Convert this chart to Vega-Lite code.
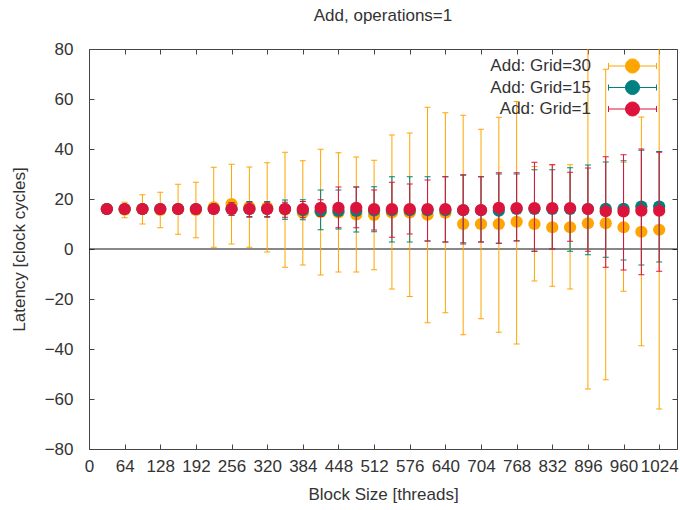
{
  "$schema": "https://vega.github.io/schema/vega-lite/v6.json",
  "width": 588,
  "height": 400,
  "autosize": {"type": "none"},
  "padding": {"left": 89, "top": 49, "right": 3, "bottom": 61},
  "background": "white",
  "config": {
    "font": "Liberation Sans",
    "view": {"stroke": "#444", "strokeWidth": 1},
    "axis": {
      "domain": false,
      "grid": false,
      "tickColor": "#444",
      "tickSize": -5,
      "labelFontSize": 17,
      "labelColor": "#333",
      "titleFontSize": 17,
      "titleFontWeight": "normal",
      "titleColor": "#333",
      "labelOverlap": false,
      "labelFlush": false
    },
    "legend": {
      "orient": "none", "legendX": 535, "legendY": 8.5, "title": null,
      "labelFontSize": 17, "labelColor": "#333", "labelAlign": "right", "labelBaseline": "middle", "labelOffset": -50,
      "symbolType": "M-3.43,0H3.43M-3.43,-0.43V0.43M3.43,-0.43V0.43M-1,0A1,1,0,1,0,1,0A1,1,0,1,0,-1,0Z",
      "symbolSize": 196, "symbolStrokeWidth": 1, "symbolOpacity": 1, "rowPadding": 2.5, "padding": 0
    }
  },
  "title": {"text": "Add, operations=1", "fontSize": 17, "fontWeight": "normal", "color": "#333", "anchor": "middle", "offset": 15},
  "data": {"values": [
    {"series": "Add: Grid=30", "x": 32, "mean": 16, "lo": 15, "hi": 17},
    {"series": "Add: Grid=30", "x": 64, "mean": 15.7, "lo": 12.5, "hi": 18.7},
    {"series": "Add: Grid=30", "x": 96, "mean": 16, "lo": 10, "hi": 21.7},
    {"series": "Add: Grid=30", "x": 128, "mean": 15.6, "lo": 8.5, "hi": 22.7},
    {"series": "Add: Grid=30", "x": 160, "mean": 16, "lo": 5.9, "hi": 25.9},
    {"series": "Add: Grid=30", "x": 192, "mean": 15.6, "lo": 4.5, "hi": 26.7},
    {"series": "Add: Grid=30", "x": 224, "mean": 16.7, "lo": 0.7, "hi": 32.7},
    {"series": "Add: Grid=30", "x": 256, "mean": 18, "lo": 2, "hi": 33.9},
    {"series": "Add: Grid=30", "x": 288, "mean": 16.8, "lo": 0.7, "hi": 32.8},
    {"series": "Add: Grid=30", "x": 320, "mean": 16.6, "lo": -1.2, "hi": 34.5},
    {"series": "Add: Grid=30", "x": 352, "mean": 15.7, "lo": -7.3, "hi": 38.7},
    {"series": "Add: Grid=30", "x": 384, "mean": 14.5, "lo": -6.4, "hi": 35.3},
    {"series": "Add: Grid=30", "x": 416, "mean": 14.8, "lo": -10.4, "hi": 39.9},
    {"series": "Add: Grid=30", "x": 448, "mean": 14.6, "lo": -9.2, "hi": 38.5},
    {"series": "Add: Grid=30", "x": 480, "mean": 13.8, "lo": -9.2, "hi": 36.8},
    {"series": "Add: Grid=30", "x": 512, "mean": 13.6, "lo": -8.3, "hi": 35.5},
    {"series": "Add: Grid=30", "x": 544, "mean": 14.6, "lo": -16, "hi": 45.6},
    {"series": "Add: Grid=30", "x": 576, "mean": 14.6, "lo": -19, "hi": 46.4},
    {"series": "Add: Grid=30", "x": 608, "mean": 13.7, "lo": -29.5, "hi": 56.7},
    {"series": "Add: Grid=30", "x": 640, "mean": 14.5, "lo": -25.5, "hi": 54.5},
    {"series": "Add: Grid=30", "x": 672, "mean": 10, "lo": -34.3, "hi": 53.5},
    {"series": "Add: Grid=30", "x": 704, "mean": 10, "lo": -27.9, "hi": 47.9},
    {"series": "Add: Grid=30", "x": 736, "mean": 10, "lo": -33.3, "hi": 52.7},
    {"series": "Add: Grid=30", "x": 768, "mean": 10.9, "lo": -38, "hi": 59},
    {"series": "Add: Grid=30", "x": 800, "mean": 10, "lo": -12.8, "hi": 33},
    {"series": "Add: Grid=30", "x": 832, "mean": 8.7, "lo": -14.9, "hi": 33.7},
    {"series": "Add: Grid=30", "x": 864, "mean": 8.7, "lo": -16, "hi": 33.7},
    {"series": "Add: Grid=30", "x": 896, "mean": 10.3, "lo": -56, "hi": 84},
    {"series": "Add: Grid=30", "x": 928, "mean": 10.3, "lo": -52.3, "hi": 71.9},
    {"series": "Add: Grid=30", "x": 960, "mean": 8.7, "lo": -16.9, "hi": 34.7},
    {"series": "Add: Grid=30", "x": 992, "mean": 6.9, "lo": -38.7, "hi": 52.8},
    {"series": "Add: Grid=30", "x": 1024, "mean": 7.7, "lo": -64, "hi": 84},
    {"series": "Add: Grid=15", "x": 32, "mean": 16, "lo": 15, "hi": 17},
    {"series": "Add: Grid=15", "x": 64, "mean": 16, "lo": 15, "hi": 17},
    {"series": "Add: Grid=15", "x": 96, "mean": 16, "lo": 15, "hi": 17},
    {"series": "Add: Grid=15", "x": 128, "mean": 16, "lo": 15, "hi": 17},
    {"series": "Add: Grid=15", "x": 160, "mean": 16, "lo": 15, "hi": 17},
    {"series": "Add: Grid=15", "x": 192, "mean": 16, "lo": 15, "hi": 17},
    {"series": "Add: Grid=15", "x": 224, "mean": 16, "lo": 15, "hi": 17},
    {"series": "Add: Grid=15", "x": 256, "mean": 16, "lo": 13.5, "hi": 18.5},
    {"series": "Add: Grid=15", "x": 288, "mean": 16, "lo": 13, "hi": 19},
    {"series": "Add: Grid=15", "x": 320, "mean": 16, "lo": 13, "hi": 19},
    {"series": "Add: Grid=15", "x": 352, "mean": 16, "lo": 11.9, "hi": 19.6},
    {"series": "Add: Grid=15", "x": 384, "mean": 15.5, "lo": 11.7, "hi": 19.7},
    {"series": "Add: Grid=15", "x": 416, "mean": 15.2, "lo": 7.7, "hi": 23.6},
    {"series": "Add: Grid=15", "x": 448, "mean": 15.2, "lo": 8, "hi": 23.6},
    {"series": "Add: Grid=15", "x": 480, "mean": 15.2, "lo": 6.8, "hi": 24.8},
    {"series": "Add: Grid=15", "x": 512, "mean": 15.4, "lo": 6.9, "hi": 24.9},
    {"series": "Add: Grid=15", "x": 544, "mean": 15.5, "lo": 2.8, "hi": 28.9},
    {"series": "Add: Grid=15", "x": 576, "mean": 15.5, "lo": 2.8, "hi": 28.9},
    {"series": "Add: Grid=15", "x": 608, "mean": 15.5, "lo": 3.2, "hi": 28.9},
    {"series": "Add: Grid=15", "x": 640, "mean": 15.5, "lo": 2.8, "hi": 28.9},
    {"series": "Add: Grid=15", "x": 672, "mean": 15.5, "lo": 2.5, "hi": 29.5},
    {"series": "Add: Grid=15", "x": 704, "mean": 15.5, "lo": 2.8, "hi": 28.9},
    {"series": "Add: Grid=15", "x": 736, "mean": 15.3, "lo": 2.3, "hi": 30},
    {"series": "Add: Grid=15", "x": 768, "mean": 16, "lo": 3.3, "hi": 30},
    {"series": "Add: Grid=15", "x": 800, "mean": 16, "lo": -0.9, "hi": 31.7},
    {"series": "Add: Grid=15", "x": 832, "mean": 16, "lo": 0, "hi": 31.7},
    {"series": "Add: Grid=15", "x": 864, "mean": 16, "lo": -0.9, "hi": 32.5},
    {"series": "Add: Grid=15", "x": 896, "mean": 16, "lo": -2.3, "hi": 33.6},
    {"series": "Add: Grid=15", "x": 928, "mean": 16.1, "lo": -3.3, "hi": 34.8},
    {"series": "Add: Grid=15", "x": 960, "mean": 16.1, "lo": -4.4, "hi": 35.3},
    {"series": "Add: Grid=15", "x": 992, "mean": 17, "lo": -6.4, "hi": 39.5},
    {"series": "Add: Grid=15", "x": 1024, "mean": 17, "lo": -5.2, "hi": 39},
    {"series": "Add: Grid=1", "x": 32, "mean": 16, "lo": 15, "hi": 17},
    {"series": "Add: Grid=1", "x": 64, "mean": 16, "lo": 15, "hi": 17},
    {"series": "Add: Grid=1", "x": 96, "mean": 16, "lo": 15, "hi": 17},
    {"series": "Add: Grid=1", "x": 128, "mean": 16, "lo": 15, "hi": 17},
    {"series": "Add: Grid=1", "x": 160, "mean": 16, "lo": 15, "hi": 17},
    {"series": "Add: Grid=1", "x": 192, "mean": 16, "lo": 15, "hi": 17},
    {"series": "Add: Grid=1", "x": 224, "mean": 16, "lo": 15, "hi": 17},
    {"series": "Add: Grid=1", "x": 256, "mean": 16, "lo": 13.5, "hi": 18.5},
    {"series": "Add: Grid=1", "x": 288, "mean": 16, "lo": 12.7, "hi": 18.7},
    {"series": "Add: Grid=1", "x": 320, "mean": 16, "lo": 12.7, "hi": 18.7},
    {"series": "Add: Grid=1", "x": 352, "mean": 16, "lo": 12.7, "hi": 18.7},
    {"series": "Add: Grid=1", "x": 384, "mean": 16, "lo": 12.5, "hi": 19},
    {"series": "Add: Grid=1", "x": 416, "mean": 16.5, "lo": 13, "hi": 19.7},
    {"series": "Add: Grid=1", "x": 448, "mean": 16.5, "lo": 8.5, "hi": 24.8},
    {"series": "Add: Grid=1", "x": 480, "mean": 16.5, "lo": 8.5, "hi": 24.8},
    {"series": "Add: Grid=1", "x": 512, "mean": 16, "lo": 7.6, "hi": 23.6},
    {"series": "Add: Grid=1", "x": 544, "mean": 16, "lo": 4.7, "hi": 26.7},
    {"series": "Add: Grid=1", "x": 576, "mean": 16, "lo": 6, "hi": 26},
    {"series": "Add: Grid=1", "x": 608, "mean": 16, "lo": 3.2, "hi": 27.6},
    {"series": "Add: Grid=1", "x": 640, "mean": 16, "lo": 2.8, "hi": 28.9},
    {"series": "Add: Grid=1", "x": 672, "mean": 15.6, "lo": 2, "hi": 29.7},
    {"series": "Add: Grid=1", "x": 704, "mean": 15.6, "lo": 2.8, "hi": 28.9},
    {"series": "Add: Grid=1", "x": 736, "mean": 16.5, "lo": 2.3, "hi": 30.5},
    {"series": "Add: Grid=1", "x": 768, "mean": 16.4, "lo": 3.2, "hi": 30.5},
    {"series": "Add: Grid=1", "x": 800, "mean": 16.4, "lo": -0.9, "hi": 34.7},
    {"series": "Add: Grid=1", "x": 832, "mean": 16.4, "lo": 0, "hi": 33.7},
    {"series": "Add: Grid=1", "x": 864, "mean": 16.4, "lo": 3.1, "hi": 30.7},
    {"series": "Add: Grid=1", "x": 896, "mean": 16, "lo": -0.9, "hi": 32.4},
    {"series": "Add: Grid=1", "x": 928, "mean": 15.1, "lo": -7.3, "hi": 36.9},
    {"series": "Add: Grid=1", "x": 960, "mean": 15, "lo": -8.4, "hi": 37.7},
    {"series": "Add: Grid=1", "x": 992, "mean": 15.3, "lo": -10.3, "hi": 40},
    {"series": "Add: Grid=1", "x": 1024, "mean": 15.3, "lo": -8.9, "hi": 38.7}
  ]},
  "resolve": {"axis": {"x": "independent", "y": "independent"}},
  "layer": [
    {
      "data": {"values": [{"v": 0}]},
      "mark": {"type": "rule", "color": "#111", "strokeWidth": 1},
      "encoding": {"y": {"field": "v", "type": "quantitative", "scale": {"domain": [-80, 80], "nice": false}, "axis": null}}
    },
    {
      "transform": [{"filter": "datum.series === 'Add: Grid=30'"}],
      "resolve": {"axis": {"x": "independent", "y": "independent"}},
      "layer": [
        {
          "mark": {"type": "rule", "strokeWidth": 1, "clip": true},
          "encoding": {
            "x": {"field": "x", "type": "quantitative", "scale": {"domain": [0, 1056], "nice": false, "zero": false},
              "axis": {"orient": "bottom", "format": "d", "values": [0, 64, 128, 192, 256, 320, 384, 448, 512, 576, 640, 704, 768, 832, 896, 960, 1024], "title": "Block Size [threads]", "labelPadding": 14, "titlePadding": 12}},
            "y": {"field": "lo", "type": "quantitative", "scale": {"domain": [-80, 80], "nice": false},
              "axis": {"orient": "left", "values": [-80, -60, -40, -20, 0, 20, 40, 60, 80], "title": "Latency [clock cycles]", "labelPadding": 21, "titlePadding": 16}},
            "y2": {"field": "hi"},
            "color": {"field": "series", "type": "nominal", "sort": ["Add: Grid=30", "Add: Grid=15", "Add: Grid=1"], "scale": {"domain": ["Add: Grid=30", "Add: Grid=15", "Add: Grid=1"], "range": ["#FFA500", "#008080", "#DC143C"]}}
          }
        },
        {
          "mark": {"type": "tick", "orient": "horizontal", "size": 6, "thickness": 1, "opacity": 1, "clip": true},
          "encoding": {
            "x": {"field": "x", "type": "quantitative", "axis": null},
            "y": {"field": "lo", "type": "quantitative", "axis": null},
            "color": {"field": "series", "type": "nominal"}
          }
        },
        {
          "mark": {"type": "tick", "orient": "horizontal", "size": 6, "thickness": 1, "opacity": 1, "clip": true},
          "encoding": {
            "x": {"field": "x", "type": "quantitative", "axis": null},
            "y": {"field": "hi", "type": "quantitative", "axis": null},
            "color": {"field": "series", "type": "nominal"}
          }
        },
        {
          "mark": {"type": "point", "filled": true, "shape": "circle", "size": 150, "opacity": 1},
          "encoding": {
            "x": {"field": "x", "type": "quantitative", "axis": {"orient": "top", "values": [0, 64, 128, 192, 256, 320, 384, 448, 512, 576, 640, 704, 768, 832, 896, 960, 1024], "labels": false, "title": null}},
            "y": {"field": "mean", "type": "quantitative", "axis": {"orient": "right", "values": [-80, -60, -40, -20, 0, 20, 40, 60, 80], "labels": false, "title": null}},
            "color": {"field": "series", "type": "nominal",
              "legend": {
                "encode": {"symbols": {"update": {"stroke": {"scale": "color", "field": "value"}, "fill": {"scale": "color", "field": "value"}}}}
              }}
          }
        }
      ]
    },
    {
      "transform": [{"filter": "datum.series === 'Add: Grid=15'"}],
      "resolve": {"axis": {"x": "independent", "y": "independent"}},
      "layer": [
        {
          "mark": {"type": "rule", "strokeWidth": 1, "clip": true},
          "encoding": {
            "x": {"field": "x", "type": "quantitative", "axis": null},
            "y": {"field": "lo", "type": "quantitative", "axis": null},
            "y2": {"field": "hi"},
            "color": {"field": "series", "type": "nominal"}
          }
        },
        {
          "mark": {"type": "tick", "orient": "horizontal", "size": 6, "thickness": 1, "opacity": 1, "clip": true},
          "encoding": {
            "x": {"field": "x", "type": "quantitative", "axis": null},
            "y": {"field": "lo", "type": "quantitative", "axis": null},
            "color": {"field": "series", "type": "nominal"}
          }
        },
        {
          "mark": {"type": "tick", "orient": "horizontal", "size": 6, "thickness": 1, "opacity": 1, "clip": true},
          "encoding": {
            "x": {"field": "x", "type": "quantitative", "axis": null},
            "y": {"field": "hi", "type": "quantitative", "axis": null},
            "color": {"field": "series", "type": "nominal"}
          }
        },
        {
          "mark": {"type": "point", "filled": true, "shape": "circle", "size": 150, "opacity": 1},
          "encoding": {
            "x": {"field": "x", "type": "quantitative", "axis": null},
            "y": {"field": "mean", "type": "quantitative", "axis": null},
            "color": {"field": "series", "type": "nominal"}
          }
        }
      ]
    },
    {
      "transform": [{"filter": "datum.series === 'Add: Grid=1'"}],
      "resolve": {"axis": {"x": "independent", "y": "independent"}},
      "layer": [
        {
          "mark": {"type": "rule", "strokeWidth": 1, "clip": true},
          "encoding": {
            "x": {"field": "x", "type": "quantitative", "axis": null},
            "y": {"field": "lo", "type": "quantitative", "axis": null},
            "y2": {"field": "hi"},
            "color": {"field": "series", "type": "nominal"}
          }
        },
        {
          "mark": {"type": "tick", "orient": "horizontal", "size": 6, "thickness": 1, "opacity": 1, "clip": true},
          "encoding": {
            "x": {"field": "x", "type": "quantitative", "axis": null},
            "y": {"field": "lo", "type": "quantitative", "axis": null},
            "color": {"field": "series", "type": "nominal"}
          }
        },
        {
          "mark": {"type": "tick", "orient": "horizontal", "size": 6, "thickness": 1, "opacity": 1, "clip": true},
          "encoding": {
            "x": {"field": "x", "type": "quantitative", "axis": null},
            "y": {"field": "hi", "type": "quantitative", "axis": null},
            "color": {"field": "series", "type": "nominal"}
          }
        },
        {
          "mark": {"type": "point", "filled": true, "shape": "circle", "size": 150, "opacity": 1},
          "encoding": {
            "x": {"field": "x", "type": "quantitative", "axis": null},
            "y": {"field": "mean", "type": "quantitative", "axis": null},
            "color": {"field": "series", "type": "nominal"}
          }
        }
      ]
    }
  ]
}
